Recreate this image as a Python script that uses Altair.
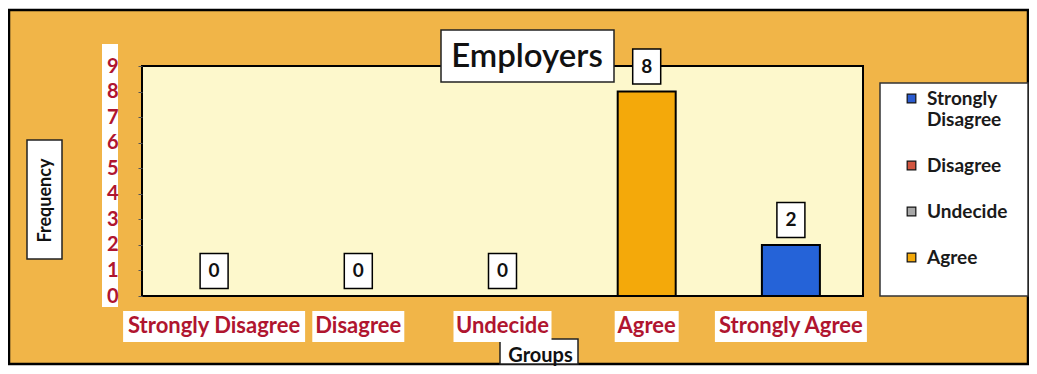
import altair as alt
import pandas as pd

categories = ["Strongly Disagree", "Disagree", "Undecide", "Agree", "Strongly Agree"]
frequency = [0, 0, 0, 8, 2]
legend_items = ["Strongly Disagree", "Disagree", "Undecide", "Agree"]
colors = ["#2a5bd0", "#d2553f", "#a8a8a8", "#f4a90a", "#2563d8"]
label_box_widths = [182, 92, 98, 64, 152]
chart_title = "Employers"

df = pd.DataFrame({"Group": categories, "Frequency": frequency, "box_w": label_box_widths})
one = pd.DataFrame({"t": [chart_title]})

RED = "#b0152f"
FONT = "Lato"

x_enc = alt.X(
    "Group:N", sort=categories,
    scale=alt.Scale(paddingInner=0, paddingOuter=0),
    axis=alt.Axis(
        title="Groups", labelAngle=0, labelColor=RED, labelFont=FONT, labelFontSize=22,
        labelFontWeight="bold", labelPadding=19, ticks=False, domain=False, labelLimit=300,
        titleFont=FONT, titleFontSize=20, titleFontWeight="bold", titleColor="#111",
        titleX=398, titleY=59, titleAlign="center", titleBaseline="middle", zindex=1,
    ),
)
y_enc = alt.Y(
    "Frequency:Q",
    scale=alt.Scale(domain=[0, 9], nice=False),
    axis=alt.Axis(
        title="Frequency", values=list(range(10)), grid=False, domain=False,
        tickSize=4, tickColor="#555", labelColor=RED, labelFont=FONT, labelFontSize=20,
        labelFontWeight="bold", labelPadding=20,
        titleFont=FONT, titleFontSize=18, titleFontWeight="bold", titleColor="#111",
        titleAngle=270, titleX=-97, titleY=134, titleAlign="center", titleBaseline="middle",
        zindex=1,
    ),
)
color_enc = alt.Color(
    "Group:N",
    scale=alt.Scale(domain=categories, range=colors),
    legend=alt.Legend(
        values=legend_items, title=None, orient="none", legendX=760, legendY=23,
        symbolType="square", symbolSize=75, symbolStrokeColor="#111", symbolStrokeWidth=1.2,
        labelFont=FONT, labelFontSize=19, labelFontWeight="bold", labelColor="#1a1a1a",
        labelOffset=6,
        labelExpr="datum.label == 'Strongly Disagree' ? ['Strongly', 'Disagree'] : datum.label",
        rowPadding=26, padding=0, zindex=1,
    ),
)

def box(x1, x2, y1, y2, fill="white", stroke="#222", sw=1.5):
    return alt.Chart(one).mark_rect(fill=fill, stroke=stroke, strokeWidth=sw).encode(
        x=alt.value(x1), x2=alt.value(x2), y=alt.value(y1), y2=alt.value(y2)
    )

frame = alt.Chart(one).mark_rect(fill="#f1b548", stroke="black", strokeWidth=2.5).encode(
    x=alt.value(-133), x2=alt.value(886), y=alt.value(-56), y2=alt.value(298)
)
plot_bg = box(0, 721, 0, 230, fill="#fdf8cc", stroke="black", sw=2)
ylab_strip = box(-40, -24, -22, 241, fill="white", stroke="white", sw=0)
freq_box = box(-115, -80, 74, 193)
groups_box = box(358, 436, 273, 298)
title_box = box(299, 472, -36, 16)
legend_box = box(738, 886, 17, 230, stroke="#333", sw=1.5)
title_text = alt.Chart(one).mark_text(
    font=FONT, fontSize=33, fontWeight=600, color="#111", align="center", baseline="middle"
).encode(x=alt.value(385), y=alt.value(-9), text="t:N")

base = alt.Chart(df)
label_boxes = base.mark_bar(fill="white").encode(
    x=x_enc, y=alt.value(245), y2=alt.value(276),
    size=alt.Size("box_w:Q", scale=None, legend=None),
)
bars = base.mark_bar(size=58, stroke="black", strokeWidth=2).encode(
    x=x_enc, y=y_enc, color=color_enc
)
value_boxes = base.mark_rect(width=28, height=35, yOffset=-25, fill="white",
                             stroke="black", strokeWidth=1.5).encode(x=x_enc, y=y_enc)
value_text = base.mark_text(dy=-25, font=FONT, fontSize=19, fontWeight="bold",
                            color="#111").encode(x=x_enc, y=y_enc, text="Frequency:Q")

chart = alt.layer(
    frame, plot_bg, ylab_strip, freq_box, groups_box, legend_box, label_boxes,
    bars, title_box, title_text, value_boxes, value_text,
).properties(
    width=721, height=230,
    autosize=alt.AutoSizeParams(type="none"),
    padding={"left": 134, "top": 58, "right": 166, "bottom": 70},
).configure(background="white").configure_view(stroke=None)

chart.save("out.html", embed_options={"renderer": "svg", "actions": False})
